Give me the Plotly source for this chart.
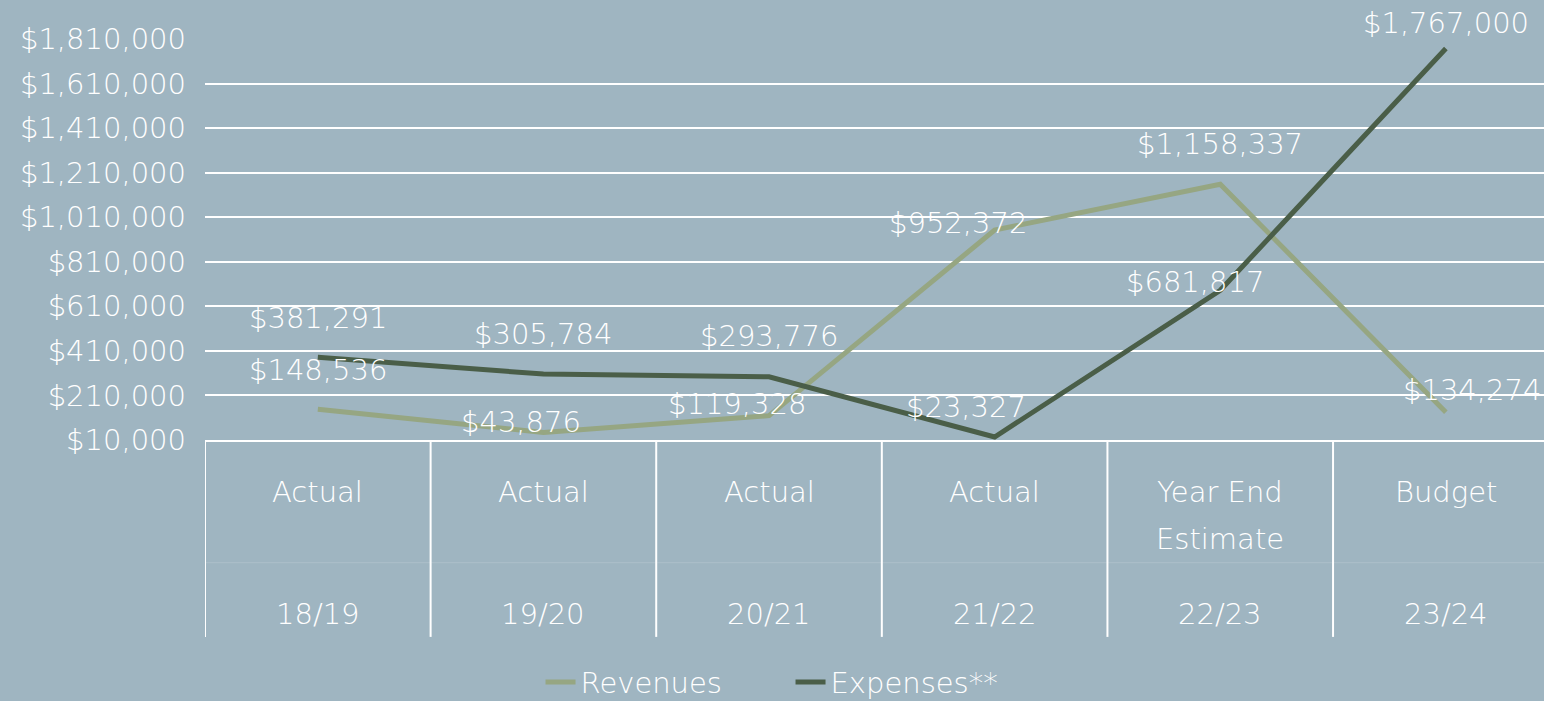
import plotly.graph_objects as go

years = ["18/19", "19/20", "20/21", "21/22", "22/23", "23/24"]
periods = ["Actual", "Actual", "Actual", "Actual", "Year End<br>Estimate", "Budget"]
revenues = [148536, 43876, 119328, 952372, 1158337, 134274]
expenses = [381291, 305784, 293776, 23327, 681817, 1767000]

# label offsets (pixels) to mimic the reference's placement
rev_shift_x = [0, -22, -32, -37, 0, 26]
rev_shift_y = [39, 10, 12, 7, 40, 22]
exp_shift_x = [0, 0, 0, -29, -25, 0]
exp_shift_y = [39, 40, 41, 30, 8, 26]

BG = "#9fb5c1"
REV_C = "#96a682"
EXP_C = "#4a5e48"
FONT = "DejaVu Sans"
FS = 29
W = "#ffffff"

def f(size=FS):
    return dict(family=FONT, size=size, color=W, weight=200)

fig = go.Figure()
fig.add_trace(go.Scatter(x=years, y=revenues, mode="lines", name="Revenues",
                         line=dict(color=REV_C, width=5)))
fig.add_trace(go.Scatter(x=years, y=expenses, mode="lines", name="Expenses**",
                         line=dict(color=EXP_C, width=5)))

ann = []
for i, y in enumerate(years):
    ann.append(dict(x=y, y=revenues[i], xref="x", yref="y", text=f"${revenues[i]:,}",
                    showarrow=False, xshift=rev_shift_x[i], yshift=rev_shift_y[i], font=f()))
    ann.append(dict(x=y, y=expenses[i], xref="x", yref="y", text=f"${expenses[i]:,}",
                    showarrow=False, xshift=exp_shift_x[i], yshift=exp_shift_y[i], font=f()))
    for j, line in enumerate(periods[i].split("<br>")):
        ann.append(dict(x=y, y=0, xref="x", yref="paper", text=line, showarrow=False,
                        yanchor="middle", yshift=-52 - 47 * j, font=f()))
    ann.append(dict(x=y, y=0, xref="x", yref="paper", text=y, showarrow=False,
                    yanchor="middle", yshift=-174, font=f()))

shapes = []
for i in range(len(years)):
    shapes.append(dict(type="line", xref="x", yref="paper", x0=i - 0.5, x1=i - 0.5,
                       y0=0, y1=-0.491, line=dict(color=W, width=2)))
shapes.append(dict(type="line", xref="x", yref="paper", x0=-0.5, x1=5.5,
                   y0=-0.306, y1=-0.306, line=dict(color="rgba(255,255,255,0.15)", width=1)))

fig.update_layout(
    width=1544, height=701,
    paper_bgcolor=BG, plot_bgcolor=BG,
    margin=dict(l=205, r=0, t=39, b=261, autoexpand=False),
    font=f(),
    showlegend=True,
    legend=dict(orientation="h", xref="container", yref="container", x=0.512, y=0.027,
                xanchor="center", yanchor="middle", entrywidth=205, entrywidthmode="pixels",
                font=f(), bgcolor="rgba(0,0,0,0)", itemwidth=30, tracegroupgap=0),
    annotations=ann, shapes=shapes,
)
fig.update_xaxes(range=[-0.5, 5.435], showticklabels=False, showgrid=False,
                 showline=True, linecolor=W, linewidth=2, zeroline=False, ticks="")
fig.update_yaxes(range=[10000, 1810000], tick0=10000, dtick=200000, tickformat="$,d",
                 showgrid=True, gridcolor=W, gridwidth=2, zeroline=False, showline=False,
                 ticks="", ticklabelstandoff=18, tickfont=f())

fig.write_html("out.html", config={"displayModeBar": False},
               post_script="document.body.style.margin='0';document.body.style.overflow='hidden';")
